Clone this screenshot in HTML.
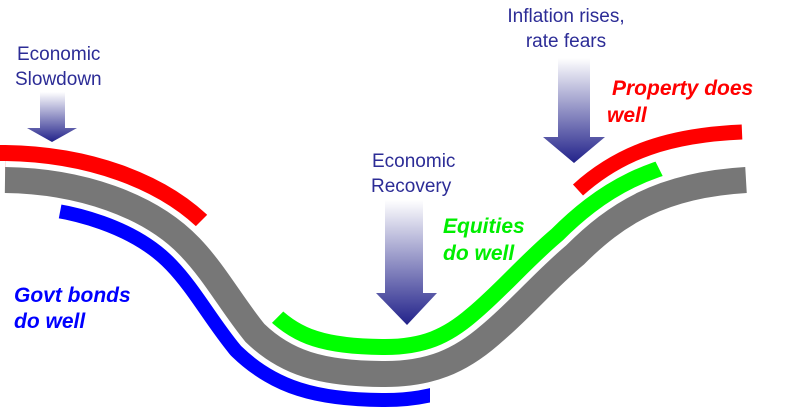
<!DOCTYPE html>
<html><head><meta charset="utf-8"><style>
html,body{margin:0;padding:0;background:#fff;}
svg{display:block;}
.t{font-family:"Liberation Sans",sans-serif;font-size:19px;fill:#2c2c96;}
.b{font-family:"Liberation Sans",sans-serif;font-size:21px;font-weight:bold;font-style:italic;}
</style></head><body>
<svg width="803" height="412" viewBox="0 0 803 412">
<defs>
<linearGradient id="g" x1="0" y1="0" x2="0" y2="1">
<stop offset="0" stop-color="#fff"/><stop offset="1" stop-color="#22228a"/>
</linearGradient>
<clipPath id="above"><path d="M5,180 C80,181 150,205 190,247 C215,273 232,305 255,333 C285,362 320,374 385,374 C430,374 460,361 490,335 C520,310 545,280 575,255 C615,215 660,185 746,180 L800,180 L800,0 L0,0 L0,180 Z"/></clipPath>
<clipPath id="below"><path d="M5,180 C80,181 150,205 190,247 C215,273 232,305 255,333 C285,362 320,374 385,374 C430,374 460,361 490,335 C520,310 545,280 575,255 C615,215 660,185 746,180 L800,180 L800,412 L0,412 L0,180 Z"/></clipPath>
<clipPath id="xr"><path d="M0,0 L422,0 L0,422 Z"/></clipPath>
<clipPath id="xb"><path d="M68,170 L430,170 L430,412 L22,412 Z"/></clipPath>
<clipPath id="xg"><path d="M183,412 L581,13 L781,412 Z"/></clipPath>
<path id="base" d="M5,180 C80,181 150,205 190,247 C215,273 232,305 255,333 C285,362 320,374 385,374 C430,374 460,361 490,335 C520,310 545,280 575,255 C615,215 660,185 746,180"/>
</defs>
<g fill="none" stroke-linecap="butt">
<g clip-path="url(#xr)"><use href="#base" clip-path="url(#above)" stroke="#f00" stroke-width="70"/></g>
<g clip-path="url(#xg)"><use href="#base" clip-path="url(#above)" stroke="#0f0" stroke-width="70"/></g>
<g clip-path="url(#xb)"><use href="#base" clip-path="url(#below)" stroke="#00f" stroke-width="66"/></g>
<use href="#base" stroke="#fff" stroke-width="38"/>
<use href="#base" stroke="#777" stroke-width="26"/>
<path d="M0,153 L6,153" stroke="#f00" stroke-width="16"/>
<path d="M578,190 C620,152 670,135 742,132" stroke="#f00" stroke-width="15"/>
</g>
<g fill="url(#g)">
<path d="M40,92 H65 V128 H77 L52,142 L27,128 H40 Z"/>
<path d="M385,200 H423 V293 H437 L407,325 L376,293 H385 Z"/>
<path d="M558,58 H590 V137 H605 L574,163 L543,137 H558 Z"/>
</g>
<text class="t" x="17" y="60">Economic</text>
<text class="t" x="15" y="85">Slowdown</text>
<text class="t" x="566" y="22" text-anchor="middle">Inflation rises,</text>
<text class="t" x="566" y="47" text-anchor="middle">rate fears</text>
<text class="t" x="372" y="167">Economic</text>
<text class="t" x="371" y="192">Recovery</text>
<text class="b" x="612" y="95" fill="#f00">Property does</text>
<text class="b" x="607" y="122" fill="#f00">well</text>
<text class="b" x="443" y="233" fill="#0e0">Equities</text>
<text class="b" x="443" y="260" fill="#0e0">do well</text>
<text class="b" x="14" y="302" fill="#00f">Govt bonds</text>
<text class="b" x="14" y="328" fill="#00f">do well</text>
</svg>
</body></html>
